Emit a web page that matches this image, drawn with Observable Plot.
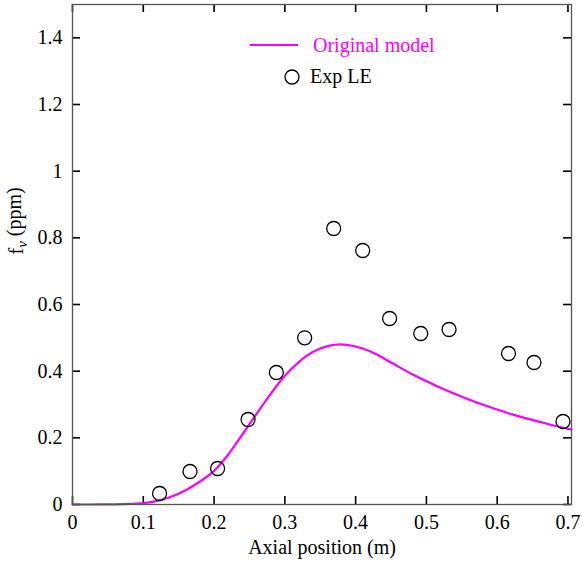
<!DOCTYPE html>
<html>
<head>
<meta charset="utf-8">
<script src="https://cdn.jsdelivr.net/npm/d3@7"></script>
<script src="https://cdn.jsdelivr.net/npm/@observablehq/plot@0.6"></script>
<style>
  html, body { margin: 0; padding: 0; background: #fff; }
  #chart { position: relative; width: 582px; height: 565px; }
</style>
</head>
<body>
<div id="chart"></div>
<script>
// Model curve ("Original model")
const modelX = [0, 0.04, 0.06, 0.08, 0.10, 0.12, 0.14, 0.16, 0.18, 0.20, 0.22, 0.24, 0.26, 0.28, 0.30, 0.32, 0.34, 0.36, 0.375, 0.39, 0.41, 0.43, 0.44, 0.46, 0.48, 0.50, 0.52, 0.54, 0.56, 0.58, 0.60, 0.62, 0.64, 0.66, 0.68, 0.70, 0.705];
const modelY = [0, 0.0002, 0.0006, 0.0017, 0.004, 0.011, 0.024, 0.043, 0.069, 0.101, 0.150, 0.210, 0.272, 0.332, 0.386, 0.428, 0.458, 0.475, 0.480, 0.478, 0.468, 0.450, 0.438, 0.414, 0.391, 0.370, 0.350, 0.332, 0.315, 0.299, 0.285, 0.271, 0.259, 0.248, 0.237, 0.227, 0.225];

// Experimental points ("Exp LE")
const expX = [0.123, 0.166, 0.205, 0.248, 0.288, 0.328, 0.369, 0.410, 0.448, 0.492, 0.532, 0.616, 0.652, 0.693];
const expY = [0.033, 0.099, 0.108, 0.255, 0.396, 0.500, 0.828, 0.762, 0.558, 0.513, 0.525, 0.453, 0.426, 0.249];

const xTicks = [0, 0.1, 0.2, 0.3, 0.4, 0.5, 0.6, 0.7];
const yTicks = [0, 0.2, 0.4, 0.6, 0.8, 1.0, 1.2, 1.4];
const xLabel = "Axial position (m)";
const yLabel = "fv (ppm)";
const seriesNames = ["Original model", "Exp LE"];

const model = modelX.map((x, i) => ({x, y: modelY[i]}));
const exp = expX.map((x, i) => ({x, y: expY[i]}));
const fmt = d => String(+d.toFixed(2));

const W = 582, H = 565;
const mL = 72, mT = 4, mR = 11, mB = 61;
const innerH = H - mT - mB, innerW = W - mL - mR;
const TL = 8;
const magenta = "#ff00ff";
const font = "Liberation Serif";

const svg = Plot.plot({
  width: W, height: H,
  marginLeft: mL, marginTop: mT, marginRight: mR, marginBottom: mB,
  style: {fontFamily: font, fontSize: "20px", color: "#000", background: "#fff"},
  x: {domain: [0, 0.705], label: null},
  y: {domain: [0, 1.5], label: null},
  marks: [
    Plot.axisX({ticks: xTicks, tickSize: 0, tickPadding: 10, tickFormat: fmt, fontSize: 20, fontFamily: font, fontVariant: "normal", label: null}),
    Plot.axisY({ticks: yTicks, tickSize: 0, tickPadding: 10, tickFormat: fmt, fontSize: 20, fontFamily: font, fontVariant: "normal", label: null}),
    // inward ticks on all four sides
    Plot.tickX(xTicks, {x: d => d, insetTop: innerH - TL, stroke: "#000", strokeWidth: 1.6}),
    Plot.tickX(xTicks, {x: d => d, insetBottom: innerH - TL, stroke: "#000", strokeWidth: 1.6}),
    Plot.tickY(yTicks, {y: d => d, insetRight: innerW - TL, stroke: "#000", strokeWidth: 1.6}),
    Plot.tickY(yTicks, {y: d => d, insetLeft: innerW - TL, stroke: "#000", strokeWidth: 1.6}),
    Plot.line(model, {x: "x", y: "y", stroke: magenta, strokeWidth: 2.2, curve: "catmull-rom"}),
    Plot.dot(exp, {x: "x", y: "y", r: 7, stroke: "#000", strokeWidth: 1.3, fill: "none"}),
    Plot.frame({stroke: "#555", strokeWidth: 1.3}),
    Plot.text([xLabel], {frameAnchor: "bottom", dy: 49, fontSize: 20, fontFamily: font, fill: "#000"}),
    Plot.text([yLabel], {frameAnchor: "left", dx: -56, rotate: -90, fontSize: 20, fontFamily: font, fill: "#000"})
  ]
});
svg.setAttribute("font-family", font);

const s = d3.select(svg);
// subscript v in y label
s.selectAll("text").filter(function() { return this.textContent === yLabel; }).each(function() {
  const t = d3.select(this);
  t.text(null);
  t.append("tspan").text("f");
  t.append("tspan").attr("dy", "0.3em").attr("font-size", "15px").attr("font-style", "italic").text("v");
  t.append("tspan").attr("dy", "-0.3em").text(" (ppm)");
});

// legend
const lg = s.append("g").attr("font-size", 20).attr("font-family", font).attr("text-anchor", "start");
lg.append("line").attr("x1", 250).attr("x2", 298).attr("y1", 45).attr("y2", 45)
  .attr("stroke", magenta).attr("stroke-width", 2.2);
lg.append("text").attr("x", 313).attr("y", 52).attr("fill", magenta).text(seriesNames[0]);
lg.append("circle").attr("cx", 292).attr("cy", 77).attr("r", 7)
  .attr("fill", "none").attr("stroke", "#000").attr("stroke-width", 1.3);
lg.append("text").attr("x", 310).attr("y", 83).attr("fill", "#000").text(seriesNames[1]);

document.getElementById("chart").appendChild(svg);
</script>
</body>
</html>
